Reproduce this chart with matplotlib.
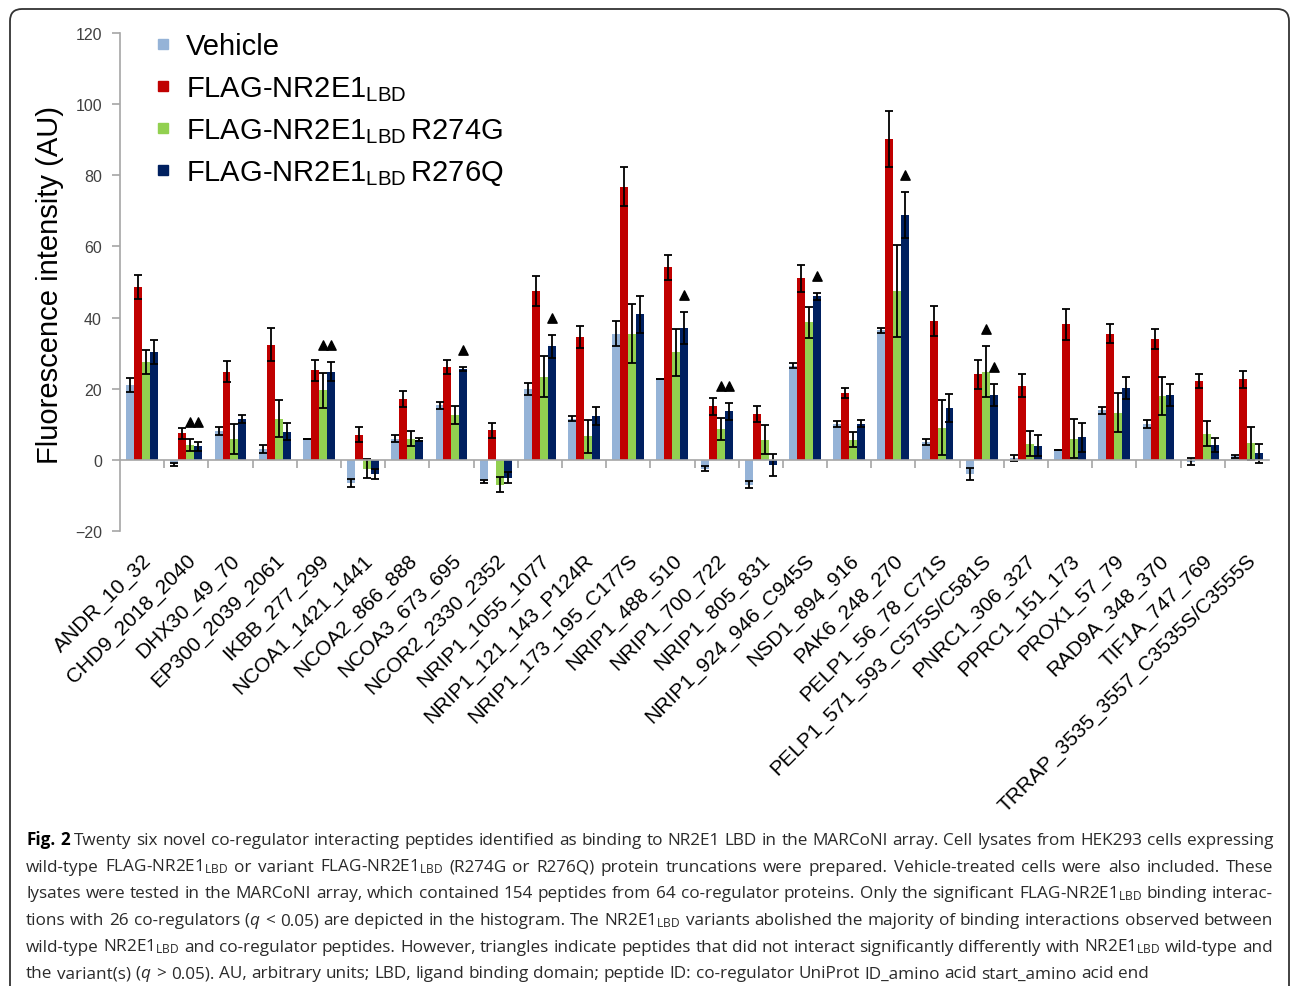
import numpy as np
import matplotlib.pyplot as plt
from matplotlib.patches import FancyBboxPatch
from matplotlib.lines import Line2D
from matplotlib.transforms import IdentityTransform

plt.rcParams['font.family'] = ['Liberation Sans', 'DejaVu Sans']
plt.rcParams['mathtext.fontset'] = 'custom'
plt.rcParams['mathtext.rm'] = 'Liberation Sans'
plt.rcParams['mathtext.sf'] = 'Open Sans'
plt.rcParams['mathtext.it'] = 'Open Sans:italic'

# peptides on the x axis
peptides = ['ANDR_10_32', 'CHD9_2018_2040', 'DHX30_49_70', 'EP300_2039_2061', 'IKBB_277_299',
            'NCOA1_1421_1441', 'NCOA2_866_888', 'NCOA3_673_695', 'NCOR2_2330_2352',
            'NRIP1_1055_1077', 'NRIP1_121_143_P124R', 'NRIP1_173_195_C177S', 'NRIP1_488_510',
            'NRIP1_700_722', 'NRIP1_805_831', 'NRIP1_924_946_C945S', 'NSD1_894_916',
            'PAK6_248_270', 'PELP1_56_78_C71S', 'PELP1_571_593_C575S/C581S', 'PNRC1_306_327',
            'PPRC1_151_173', 'PROX1_57_79', 'RAD9A_348_370', 'TIF1A_747_769',
            'TRRAP_3535_3557_C3535S/C3555S']

# values (AU)
vehicle = [21, -1.2, 8, 3, 6, -6.5, 6, 15.3, -6, 19.8, 11.5, 35.5, 22.7, -2.5, -7, 26.5,
           10, 36.5, 5, -4, 0.5, 2.7, 14, 10, -0.5, 1]
vehicle_err = [1.9, 0.4, 1.1, 1.2, 0, 1.0, 1.0, 0.9, 0.4, 1.7, 0.7, 3.4, 0, 0.7, 1.0, 0.6,
               0.9, 0.7, 0.9, 1.8, 0.8, 0, 1.0, 1.1, 1.0, 0.5]
wt = [48.5, 7.5, 24.8, 32.4, 25.2, 7.1, 17.1, 26.1, 8.3, 47.5, 34.6, 76.8, 54.1, 15.1, 12.9,
      51.0, 18.8, 90.2, 39.1, 24.0, 20.9, 38.1, 35.5, 34.0, 22.2, 22.6]
wt_err = [3.4, 1.5, 2.9, 4.7, 2.9, 2.0, 2.3, 2.1, 2.2, 4.3, 3.1, 5.5, 3.4, 2.4, 2.2, 3.8,
          1.3, 7.9, 4.2, 4.2, 3.1, 4.4, 2.6, 2.7, 2.0, 2.4]
r274g = [27.5, 4.2, 5.8, 11.6, 19.5, -2.5, 6.0, 12.7, -7.0, 23.4, 6.6, 35.5, 30.2, 8.7, 5.7,
         38.7, 5.7, 47.4, 9.0, 24.8, 4.5, 6.0, 13.2, 18.0, 7.3, 4.6]
r274g_err = [3.5, 1.6, 4.2, 5.1, 4.8, 2.7, 2.2, 2.5, 2.1, 5.7, 4.6, 8.3, 6.5, 3.1, 4.0, 4.4,
             2.1, 13.0, 7.7, 7.1, 3.5, 5.5, 5.5, 5.4, 3.5, 4.6]
r276q = [30.3, 3.8, 11.5, 7.9, 24.8, -4.0, 5.7, 25.5, -5.0, 31.9, 12.4, 40.9, 37.0, 13.7, -1.5,
         46.0, 10.2, 68.8, 14.6, 18.2, 4.0, 6.3, 20.2, 18.2, 4.1, 1.8]
r276q_err = [3.4, 1.2, 1.2, 2.4, 2.6, 1.5, 0.5, 0.5, 1.5, 3.3, 2.6, 5.1, 4.5, 2.4, 3.1, 1.0,
             0.9, 6.4, 4.0, 3.0, 2.9, 4.2, 3.0, 3.1, 2.0, 2.6]

series_names = ['Vehicle', r'FLAG-NR2E1$_{\mathrm{LBD}}$', r'FLAG-NR2E1$_{\mathrm{LBD}}\,$R274G',
                r'FLAG-NR2E1$_{\mathrm{LBD}}\,$R276Q']
colors = ['#95B3D7', '#C00000', '#92D050', '#002060']

# triangles: (peptide index, series indices)
triangles = [(1, [2, 3]), (4, [2, 3]), (7, [3]), (9, [3]), (12, [3]), (13, [2, 3]),
             (15, [3]), (17, [3]), (19, [2]), (19, [3])]

caption_lines = [
    'Fig. 2 Twenty six novel co-regulator interacting peptides identified as binding to NR2E1 LBD in the MARCoNI array. Cell lysates from HEK293 cells expressing',
    r'wild-type FLAG-NR2E1$_{\mathsf{LBD}}$ or variant FLAG-NR2E1$_{\mathsf{LBD}}$ (R274G or R276Q) protein truncations were prepared. Vehicle-treated cells were also included. These',
    r'lysates were tested in the MARCoNI array, which contained 154 peptides from 64 co-regulator proteins. Only the significant FLAG-NR2E1$_{\mathsf{LBD}}$ binding interac-',
    r'tions with 26 co-regulators ($\mathit{q}$ < 0.05) are depicted in the histogram. The NR2E1$_{\mathsf{LBD}}$ variants abolished the majority of binding interactions observed between',
    r'wild-type NR2E1$_{\mathsf{LBD}}$ and co-regulator peptides. However, triangles indicate peptides that did not interact significantly differently with NR2E1$_{\mathsf{LBD}}$ wild-type and',
    r'the variant(s) ($\mathit{q}$ > 0.05). AU, arbitrary units; LBD, ligand binding domain; peptide ID: co-regulator UniProt ID_amino acid start_amino acid end',
]

W, H = 1290, 987
fig = plt.figure(figsize=(W / 100, H / 100), dpi=100)
ax = fig.add_axes([120 / W, 1 - 532 / H, 1149 / W, 498 / H])

x = np.arange(len(peptides))
bw = 0.18
offsets = [-1.5 * bw, -0.5 * bw, 0.5 * bw, 1.5 * bw]
all_vals = [vehicle, wt, r274g, r276q]
all_errs = [vehicle_err, wt_err, r274g_err, r276q_err]
for k in range(4):
    ax.bar(x + offsets[k], all_vals[k], width=bw, color=colors[k], yerr=all_errs[k],
           error_kw=dict(ecolor='black', elinewidth=1.3, capsize=3.2, capthick=1.3), zorder=2)

for g, ser in triangles:
    top = max(all_vals[s][g] + all_errs[s][g] for s in ser)
    ax.scatter([g + offsets[s] for s in ser], [top + 4.8] * len(ser), marker='^', s=45,
               color='black', zorder=3)

ax.set_xlim(-0.5, len(peptides) - 0.5)
ax.set_ylim(-20, 120)
ax.set_yticks(np.arange(-20, 121, 20))
ax.set_xticks(np.arange(0.5, len(peptides) - 1, 1))
ax.set_xticklabels([])
for s in ['top', 'right']:
    ax.spines[s].set_visible(False)
ax.spines['left'].set_color('#a6a6a6')
ax.spines['bottom'].set_color('#a6a6a6')
ax.spines['bottom'].set_position(('data', 0))
ax.spines['left'].set_linewidth(1.2)
ax.spines['bottom'].set_linewidth(1.2)
ax.tick_params(axis='y', length=6, width=1.2, color='#a6a6a6', labelsize=11.5,
               labelcolor='#404040', pad=7)
ax.tick_params(axis='x', length=6, width=1.2, color='#a6a6a6')

for i, name in enumerate(peptides):
    ax.text(i + 0.15, -0.052, name, transform=ax.get_xaxis_transform(), rotation=45,
            rotation_mode='anchor', ha='right', va='center', fontsize=15)

fig.text(50 / W, 1 - 285 / H, 'Fluorescence intensity (AU)', rotation=90, ha='center',
         va='center', fontsize=21)

# legend
for k in range(4):
    yb = 55 + 42 * k
    fig.add_artist(Line2D([163 / W], [1 - (yb - 10) / H], marker='s', markersize=7.5,
                          color=colors[k], linestyle='none'))
    fig.text(186 / W, 1 - yb / H, series_names[k], fontsize=21, va='baseline', ha='left')

# border
fig.patches.append(FancyBboxPatch((10, -40), 1279, 1017, boxstyle='round,pad=0,rounding_size=12',
                                  transform=IdentityTransform(), facecolor='none',
                                  edgecolor='#333333', linewidth=1.3, figure=fig))

# caption, justified
renderer = fig.canvas.get_renderer()
cap_kw = dict(fontsize=12.3, family=['Open Sans', 'DejaVu Sans'], color='#2a2a2a', va='baseline')
x_left, x_right = 26, 1273


def width_of(s, bold=False):
    t = fig.text(0, 0, s, weight='bold' if bold else 'normal', **cap_kw)
    w = t.get_window_extent(renderer).width
    t.remove()
    return w


space_w = width_of('a b') - width_of('ab')
for n, line in enumerate(caption_lines):
    words = line.split(' ')
    bolds = [n == 0 and j < 2 for j in range(len(words))]
    widths = [width_of(w, b) for w, b in zip(words, bolds)]
    if n < len(caption_lines) - 1:
        gap = (x_right - x_left - sum(widths)) / (len(words) - 1)
    else:
        gap = space_w
    xp = x_left
    yb = 845 + 26.67 * n
    for w, b, wd in zip(words, bolds, widths):
        fig.text(xp / W, 1 - yb / H, w, weight='bold' if b else 'normal',
                 **dict(cap_kw, color='black' if b else cap_kw['color']))
        xp += wd + gap

fig.savefig('out.png', dpi=100)
